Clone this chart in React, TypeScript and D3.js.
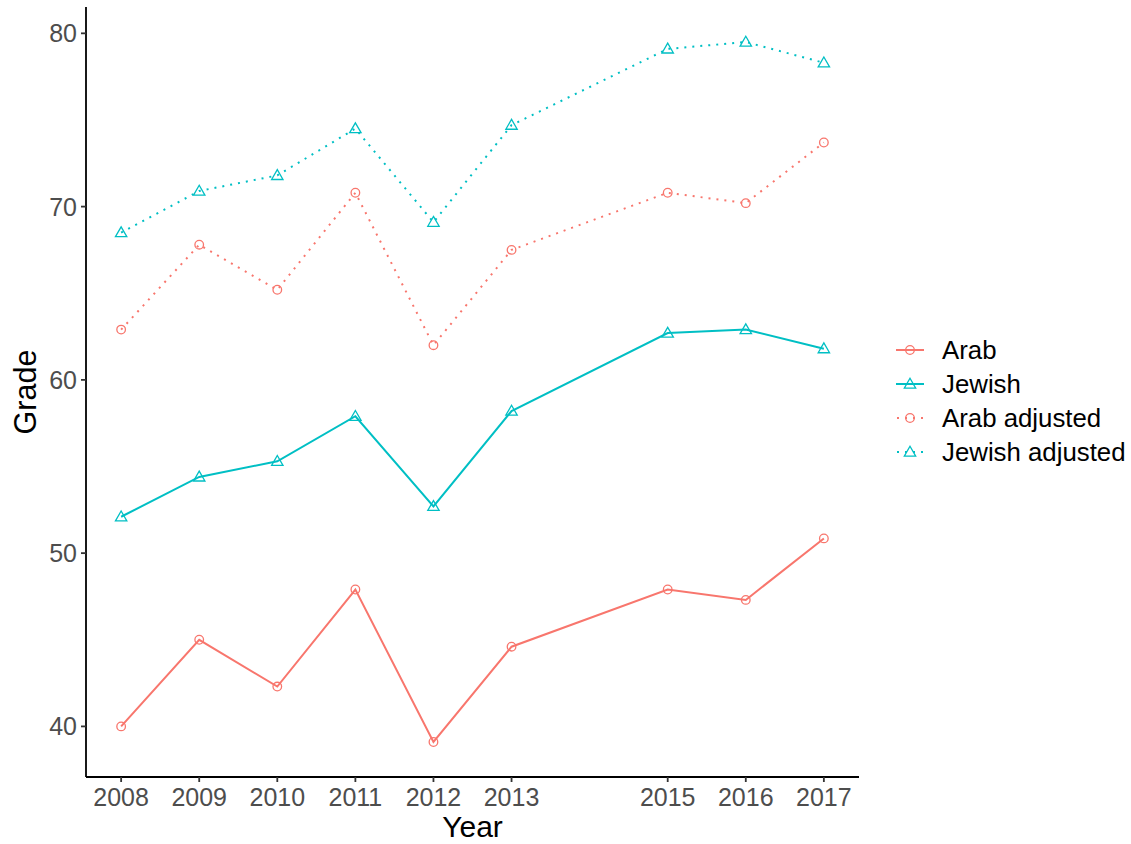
import React from "react";
import * as d3 from "d3";

// Exam grade by year and group, raw and adjusted
const years = [2008, 2009, 2010, 2011, 2012, 2013, 2015, 2016, 2017];
const arab = [40.0, 45.0, 42.3, 47.9, 39.1, 44.6, 47.9, 47.3, 50.85];
const jewish = [52.1, 54.4, 55.3, 57.9, 52.7, 58.2, 62.7, 62.9, 61.8];
const arabAdjusted = [62.9, 67.8, 65.2, 70.8, 62.0, 67.5, 70.8, 70.2, 73.7];
const jewishAdjusted = [68.5, 70.9, 71.8, 74.5, 69.1, 74.7, 79.1, 79.5, 78.3];
const yTicks = [40, 50, 60, 70, 80];

const RED = "#F8766D";
const TEAL = "#00BFC4";

type Series = { name: string; values: number[]; color: string; shape: "circle" | "triangle"; dotted: boolean };

const series: Series[] = [
  { name: "Arab", values: arab, color: RED, shape: "circle", dotted: false },
  { name: "Jewish", values: jewish, color: TEAL, shape: "triangle", dotted: false },
  { name: "Arab adjusted", values: arabAdjusted, color: RED, shape: "circle", dotted: true },
  { name: "Jewish adjusted", values: jewishAdjusted, color: TEAL, shape: "triangle", dotted: true },
];

const W = 1131;
const H = 844;
const panel = { left: 86, right: 859, top: 7, bottom: 777 };
const FONT = "'Liberation Sans', Arial, Helvetica, sans-serif";

function expand(lo: number, hi: number, f = 0.05): [number, number] {
  const d = (hi - lo) * f;
  return [lo - d, hi + d];
}

const allValues = series.flatMap((s) => s.values);
const [yMin, yMax] = d3.extent(allValues) as [number, number];
const [xMin, xMax] = d3.extent(years) as [number, number];

const x = d3.scaleLinear().domain(expand(xMin, xMax)).range([panel.left, panel.right]);
const y = d3.scaleLinear().domain(expand(yMin, yMax)).range([panel.bottom, panel.top]);

const triPath = d3.symbol(d3.symbolTriangle, 56)() as string;

function Marker({ shape, color, cx, cy }: { shape: string; color: string; cx: number; cy: number }) {
  if (shape === "circle") {
    return <circle cx={cx} cy={cy} r={4.3} fill="none" stroke={color} strokeWidth={1.3} />;
  }
  return <path d={triPath} transform={`translate(${cx},${cy + 0.8})`} fill="none" stroke={color} strokeWidth={1.3} />;
}

export default function App() {
  const line = d3
    .line<number>()
    .x((_, i) => x(years[i]))
    .y((v) => y(v));

  const legendX = 896;
  const legendY0 = 350;
  const legendStep = 34;

  return (
    <svg width={W} height={H} style={{ display: "block", position: "absolute", left: 0, top: 0, background: "#fff" }}>
      <rect width={W} height={H} fill="#fff" />

      {/* series lines */}
      {series.map((s) => (
        <path
          key={s.name + "-line"}
          d={line(s.values) as string}
          fill="none"
          stroke={s.color}
          strokeWidth={2}
          strokeDasharray={s.dotted ? "2 6" : undefined}
        />
      ))}
      {/* point markers */}
      {series.map((s) =>
        s.values.map((v, i) => (
          <Marker key={s.name + i} shape={s.shape} color={s.color} cx={x(years[i])} cy={y(v)} />
        ))
      )}

      {/* axes */}
      <line x1={panel.left} x2={panel.left} y1={panel.top} y2={panel.bottom} stroke="#000" strokeWidth={1.8} />
      <line x1={panel.left} x2={panel.right} y1={panel.bottom} y2={panel.bottom} stroke="#000" strokeWidth={1.8} />

      {yTicks.map((t) => (
        <g key={"y" + t}>
          <line x1={panel.left - 5} x2={panel.left} y1={y(t)} y2={y(t)} stroke="#333" strokeWidth={1.8} />
          <text x={panel.left - 9} y={y(t)} dy="0.36em" textAnchor="end" fontSize={25} fill="#4D4D4D" fontFamily={FONT}>
            {t}
          </text>
        </g>
      ))}
      {years.map((t) => (
        <g key={"x" + t}>
          <line x1={x(t)} x2={x(t)} y1={panel.bottom} y2={panel.bottom + 5} stroke="#333" strokeWidth={1.8} />
          <text x={x(t)} y={panel.bottom + 29} textAnchor="middle" fontSize={25} fill="#4D4D4D" fontFamily={FONT}>
            {t}
          </text>
        </g>
      ))}

      <text x={(panel.left + panel.right) / 2} y={837} textAnchor="middle" fontSize={30} fill="#000" fontFamily={FONT}>
        Year
      </text>
      <text
        transform={`translate(36,${(panel.top + panel.bottom) / 2}) rotate(-90)`}
        textAnchor="middle"
        fontSize={30.5}
        fill="#000"
        fontFamily={FONT}
      >
        Grade
      </text>

      {/* legend */}
      {series.map((s, i) => {
        const cy = legendY0 + i * legendStep;
        return (
          <g key={"lg" + s.name}>
            <line
              x1={legendX}
              x2={legendX + 28}
              y1={cy}
              y2={cy}
              stroke={s.color}
              strokeWidth={2}
              strokeDasharray={s.dotted ? "2 6" : undefined}
              strokeDashoffset={s.dotted ? -1 : undefined}
            />
            <Marker shape={s.shape} color={s.color} cx={legendX + 14} cy={cy} />
            <text x={942} y={cy} dy="0.36em" fontSize={25.8} fill="#000" fontFamily={FONT}>
              {s.name}
            </text>
          </g>
        );
      })}
    </svg>
  );
}
